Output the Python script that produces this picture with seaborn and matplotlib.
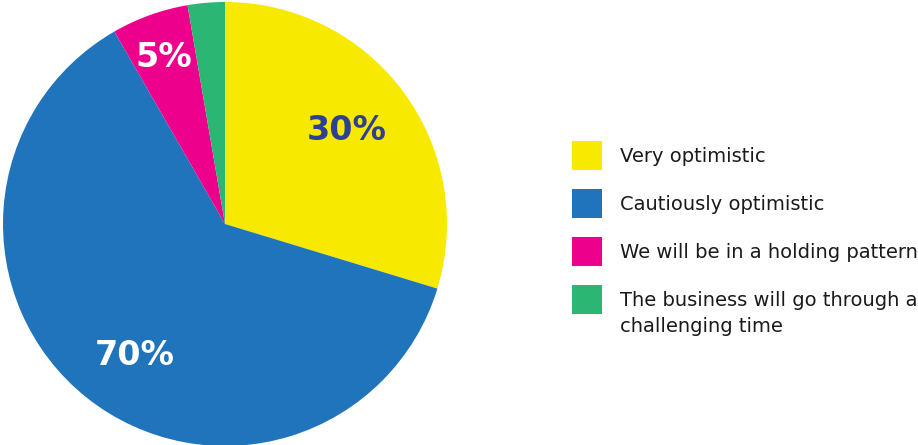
import numpy as np
import matplotlib
matplotlib.use("Agg")
import matplotlib.pyplot as plt
import seaborn as sns

# slice sizes, labels as printed on the chart
categories = ["Very optimistic", "Cautiously optimistic",
              "We will be in a holding pattern",
              "The business will go through a\nchallenging time"]
shares = [29.7, 62.0, 5.6, 2.7]
pct_labels = ["30%", "70%", "5%", ""]
colors = ["#f7ea00", "#1f74bb", "#ec008c", "#2cb673"]
label_colors = ["#2e3f94", "white", "white", "white"]
# where each percentage sits: radius, and small angle nudge in degrees
label_radius = [0.69, 0.72, 0.80, 0.8]
label_nudge = [1.0, 4.0, 0.5, 0.0]

sns.set_theme(style="white")
plt.rcParams['font.family'] = ['DejaVu Sans']

W, H = 918, 445
fig = plt.figure(figsize=(W / 100, H / 100), dpi=100)
ax = fig.add_axes([3 / W, -1 / H, 444 / W, 444 / H])

wedges, _ = ax.pie(shares, colors=colors, startangle=90, counterclock=False,
                   wedgeprops=dict(linewidth=0))
ax.set_xlim(-1, 1)
ax.set_ylim(-1, 1)
ax.set_aspect("equal")
ax.axis("off")

for w, txt, c, r, nd in zip(wedges, pct_labels, label_colors,
                            label_radius, label_nudge):
    if not txt:
        continue
    mid = np.deg2rad((w.theta1 + w.theta2) / 2 + nd)
    ax.text(r * np.cos(mid), r * np.sin(mid), txt, ha="center", va="center",
            color=c, fontsize=24, fontweight="bold")

# legend: first line of each label in the legend, extra lines set below it
first_lines = [c.split("\n")[0] for c in categories]
leg = fig.legend(wedges, first_lines, loc="upper left",
                 bbox_to_anchor=(572 / W, 1 - 141 / H),
                 frameon=False, fontsize=14, borderpad=0, borderaxespad=0,
                 handlelength=1.54, handleheight=1.92, handletextpad=0.93,
                 labelspacing=0.98, labelcolor="#1a1a1a")

fig.canvas.draw()
for cat, t in zip(categories, leg.get_texts()):
    rest = cat.split("\n")[1:]
    if rest:
        bb = t.get_window_extent()
        fig.text(bb.x0 / W, (bb.y0 - 7) / H, "\n".join(rest),
                 ha="left", va="top", fontsize=14, color="#1a1a1a")

fig.savefig("out.png", dpi=100)
